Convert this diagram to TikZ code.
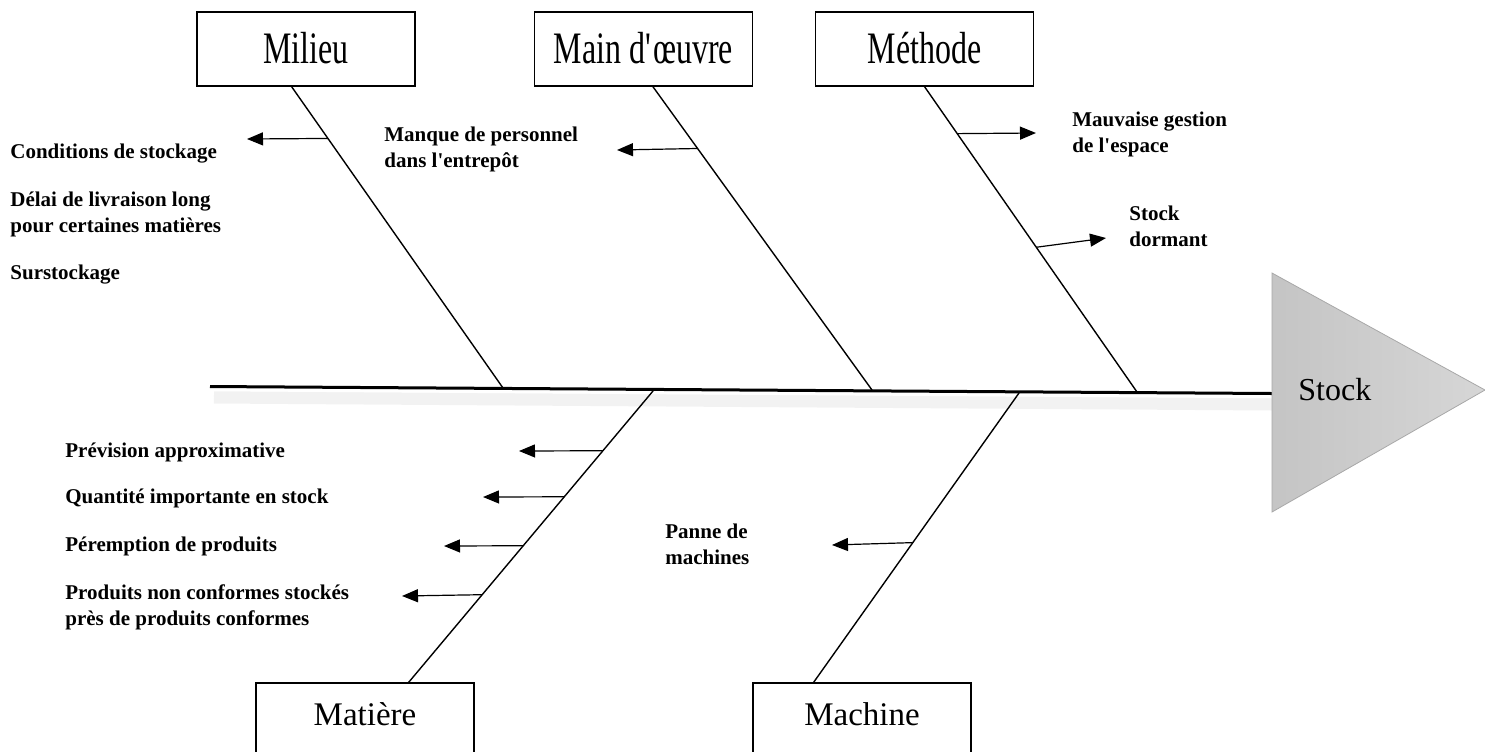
\documentclass[tikz,border=0pt]{standalone}
\usepackage{fontspec}
\setmainfont{Liberation Serif}
\newfontfamily\tallfont[FakeStretch=0.71]{Liberation Serif}
\usetikzlibrary{positioning, arrows.meta, calc}

\begin{document}
\begin{tikzpicture}[
  x=0.5pt, y=-0.5pt,
  cause/.style={draw, line width=0.6pt, minimum width=109pt, minimum height=37pt,
                inner sep=0pt, font=\tallfont\fontsize{22.5}{27}\selectfont,
                text height=15.5pt, text depth=1.5pt},
  causelow/.style={cause, minimum height=43pt, font=\fontsize{16.5}{20}\selectfont,
                   text height=11pt, text depth=12pt},
  item/.style={anchor=base west, align=left, inner sep=0pt,
               font=\fontsize{10.5}{13}\selectfont\bfseries},
  bone/.style={line width=0.7pt},
  arrow/.style={-{Triangle[length=8pt, width=6.5pt]}, line width=0.6pt},
]
\useasboundingbox (0,0) rectangle (1485,751);

\node[cause] (milieu) at (306,49) {Milieu};
\node[cause] (main) at (643.5,49) {Main d\textquotesingle œuvre};
\node[cause] (methode) at (924.5,49) {Méthode};
\node[causelow] (matiere) at (365,726) {Matière};
\node[causelow] (machine) at (862,726) {Machine};

\coordinate (tail) at (210,386.5);
\coordinate (head) at (1272,393.5);
\coordinate (jmilieu) at (503,388);
\coordinate (jmain) at (872,390);
\coordinate (jmethode) at (1137,392);
\coordinate (jmatiere) at (653,391);
\coordinate (jmachine) at (1019,393);

\draw[black!5, line width=6pt] ($(tail)+(4,11)$) -- ($(head)+(0,11)$);
\draw[black!5, line width=3pt] ($(tail)+(4,8)$) -- ($(head)+(0,8)$);
\draw[line width=1.5pt] (tail) -- (head);

\shadedraw[draw=black!34, left color=black!23, right color=black!16]
  (head |- 0,273) -- (1485,390) -- (head |- 0,512) -- cycle;
\node[anchor=west, inner sep=0pt, font=\fontsize{16}{19}\selectfont] (stock) at (1298,390) {Stock};

\draw[bone] (milieu.249) -- (jmilieu);
\draw[bone] (main.284.4) -- (jmain);
\draw[bone] (methode.south) -- (jmethode);
\draw[bone] (matiere.45) -- (jmatiere);
\draw[bone] (machine.138.7) -- (jmachine);

\node[item] (cond) at (10,158) {Conditions de stockage};
\node[item] (delai) at (10,232) {Délai de livraison long\\pour certaines matières};
\node[item] (surstock) at (10,279) {Surstockage};
\node[item] (manque) at (384,167) {Manque de personnel\\dans l\textquotesingle entrepôt};
\node[item] (espace) at (1072,152) {Mauvaise gestion\\de l\textquotesingle espace};
\node[item] (dormant) at (1129,246) {Stock\\dormant};
\node[item] (prevision) at (65,457) {Prévision approximative};
\node[item] (quantite) at (65,503) {Quantité importante en stock};
\node[item] (peremption) at (65,551) {Péremption de produits};
\node[item] (nonconf) at (65,625) {Produits non conformes stockés\\près de produits conformes};
\node[item] (panne) at (665,564) {Panne de\\machines};

\coordinate (tcond) at (247,139);
\coordinate (tmanque) at (617,150);
\coordinate (tespace) at (1036,133);
\coordinate (tdormant) at (1106,238);
\coordinate (tprevision) at (519,451);
\coordinate (tquantite) at (483,497);
\coordinate (tperemption) at (444,546);
\coordinate (tnonconf) at (402,596);
\coordinate (tpanne) at (832,545);

\draw[arrow] ($(milieu.249)!0.172!(jmilieu)$) -- (tcond);
\draw[arrow] ($(main.284.4)!0.204!(jmain)$) -- (tmanque);
\draw[arrow] ($(methode.south)!0.154!(jmethode)$) -- (tespace);
\draw[arrow] ($(methode.south)!0.526!(jmethode)$) -- (tdormant);
\draw[arrow] ($(jmatiere)!0.205!(matiere.45)$) -- (tprevision);
\draw[arrow] ($(jmatiere)!0.363!(matiere.45)$) -- (tquantite);
\draw[arrow] ($(jmatiere)!0.531!(matiere.45)$) -- (tperemption);
\draw[arrow] ($(jmatiere)!0.699!(matiere.45)$) -- (tnonconf);
\draw[arrow] ($(jmachine)!0.517!(machine.138.7)$) -- (tpanne);
\end{tikzpicture}
\end{document}
